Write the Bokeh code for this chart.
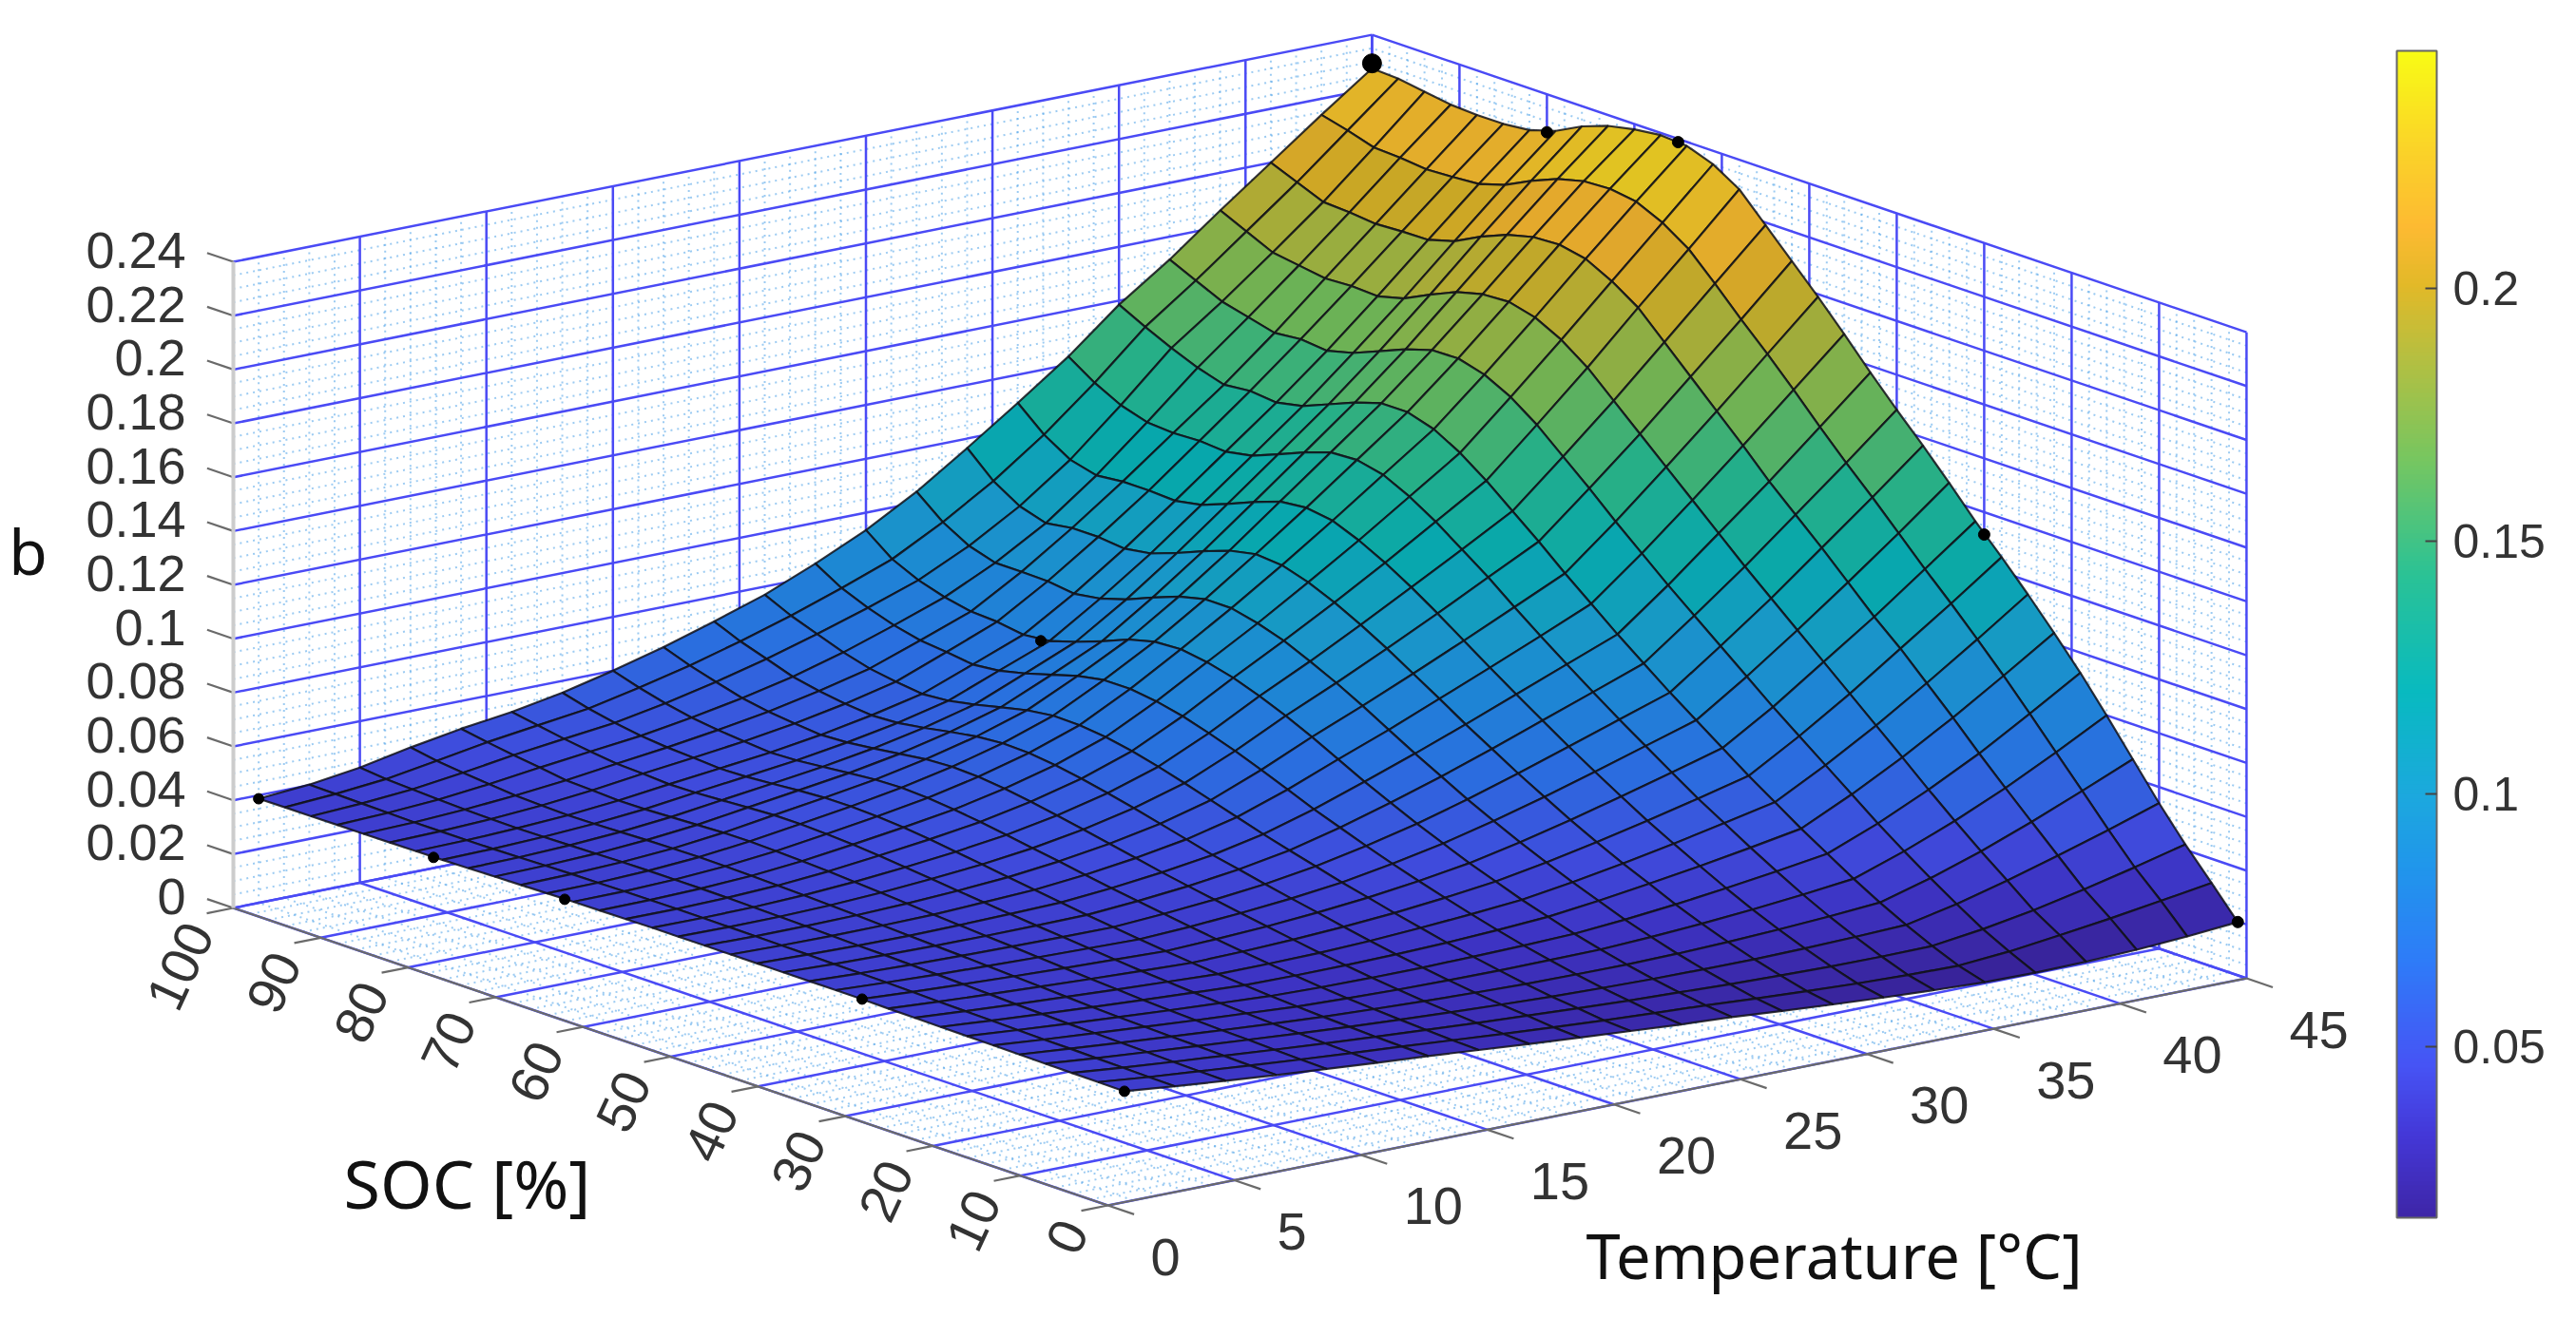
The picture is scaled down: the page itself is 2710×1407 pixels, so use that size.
import numpy as np
from bokeh.plotting import figure
from bokeh.models import ColumnDataSource, LinearColorMapper, ColorBar, FixedTicker
from bokeh.core.properties import value
from bokeh.embed import file_html
from bokeh.resources import INLINE

# Axis ticks
t_ticks = [0, 5, 10, 15, 20, 25, 30, 35, 40, 45]
soc_ticks = [0, 10, 20, 30, 40, 50, 60, 70, 80, 90, 100]
b_ticks = [0, .02, .04, .06, .08, .1, .12, .14, .16, .18, .2, .22, .24]
b_labels = ["0", "0.02", "0.04", "0.06", "0.08", "0.1", "0.12", "0.14", "0.16", "0.18", "0.2", "0.22", "0.24"]
cbar_ticks = [.05, .1, .15, .2]
cbar_labels = ["0.05", "0.1", "0.15", "0.2"]
cbar_low, cbar_high = 0.0162, 0.247

# Surface values, b x 10000; one row per SOC, one column per temperature
temperature = [1, 3, 5, 7, 9, 11, 13, 15, 17, 19, 21, 23, 25, 27, 29, 31, 33, 35, 37, 39, 41, 43, 45]
soc = [1, 4, 7, 10, 13, 16, 19, 22, 25, 28, 31, 34, 37, 40, 43, 46, 49, 52, 55, 58, 61, 64, 67, 70, 73, 76, 79, 82, 85, 88, 91, 94, 97, 100]
b_table = [
 [394,375,358,342,327,313,300,285,270,256,243,230,220,205,192,180,170,162,160,163,170,182,198],
 [395,376,360,344,329,315,302,288,274,261,249,239,230,218,208,199,193,190,205,228,253,281,310],
 [396,378,362,347,332,318,305,293,281,271,261,252,245,238,233,229,228,230,255,288,328,372,420],
 [397,380,365,350,336,322,309,298,288,279,271,266,262,260,260,263,268,275,315,365,420,478,540],
 [398,382,367,352,338,325,313,304,296,290,285,283,282,285,291,300,311,325,378,440,512,590,670],
 [399,383,369,355,342,330,318,311,306,303,302,303,305,314,326,341,359,380,445,520,605,700,800],
 [400,385,371,358,346,335,324,319,317,317,320,324,330,345,364,387,412,440,515,603,700,810,925],
 [401,387,374,362,351,341,331,329,330,333,339,348,360,382,408,436,467,500,590,690,800,918,1040],
 [402,389,377,367,357,348,339,340,343,350,361,374,390,418,450,486,525,565,665,775,895,1020,1150],
 [403,391,381,372,363,355,348,352,359,369,383,402,425,458,496,538,583,630,740,860,990,1120,1255],
 [405,394,385,377,370,364,358,365,375,389,407,431,460,500,545,595,647,700,815,945,1075,1215,1355],
 [405,396,388,382,377,373,369,378,391,408,430,462,500,546,598,654,712,770,895,1030,1170,1315,1465],
 [405,397,391,387,384,382,381,393,408,428,457,495,540,593,652,714,777,840,975,1115,1265,1415,1570],
 [405,398,394,391,390,391,393,407,425,450,483,530,585,645,710,778,846,915,1055,1200,1355,1510,1670],
 [405,400,396,395,397,401,406,422,443,470,510,565,630,697,768,842,916,990,1135,1290,1445,1610,1775],
 [405,401,399,400,403,411,420,438,463,495,540,605,680,752,830,908,988,1070,1220,1380,1545,1715,1885],
 [405,402,402,405,411,421,434,455,483,520,570,645,730,808,890,975,1062,1150,1305,1470,1640,1815,1990],
 [405,403,404,409,418,432,448,471,503,545,600,682,775,860,950,1043,1140,1235,1395,1560,1735,1910,2090],
 [405,404,406,413,425,442,462,487,522,567,628,715,815,907,1005,1107,1210,1315,1480,1650,1830,2010,2190],
 [404,404,408,416,431,452,475,502,540,588,653,745,850,950,1055,1165,1280,1395,1565,1740,1925,2105,2290],
 [403,404,409,419,436,460,486,515,555,605,672,767,875,982,1097,1215,1340,1465,1635,1810,1990,2170,2350],
 [402,403,409,421,440,466,494,525,566,617,683,780,890,1005,1127,1255,1388,1520,1685,1860,2040,2215,2385],
 [400,402,409,422,443,470,498,530,570,620,685,780,885,1005,1135,1270,1410,1550,1712,1885,2060,2230,2392],
 [398,401,408,421,442,470,497,527,565,612,672,762,860,982,1115,1260,1405,1550,1710,1880,2055,2225,2380],
 [396,399,406,419,438,465,491,518,552,596,650,733,820,945,1080,1225,1372,1520,1680,1855,2030,2200,2360],
 [394,397,404,416,434,459,483,508,539,578,627,705,785,905,1040,1185,1332,1480,1640,1812,1990,2160,2325],
 [392,395,402,413,430,454,476,499,528,563,608,682,755,875,1005,1148,1293,1440,1600,1765,1940,2112,2275],
 [391,394,401,412,429,452,473,495,523,558,600,672,745,860,990,1130,1275,1420,1575,1740,1912,2082,2245],
 [390,394,402,415,434,458,480,503,532,568,612,685,760,873,1000,1135,1282,1430,1585,1745,1910,2075,2235],
 [389,394,404,419,438,462,485,512,543,582,628,695,765,875,1000,1135,1278,1420,1575,1740,1905,2070,2235],
 [389,396,408,428,452,474,495,525,560,602,655,718,785,875,985,1125,1285,1450,1600,1755,1915,2080,2240],
 [388,398,413,437,465,488,510,545,587,635,690,750,815,905,1015,1150,1315,1490,1625,1770,1920,2085,2255],
 [388,400,418,448,480,505,530,570,615,667,725,790,860,960,1075,1210,1365,1535,1670,1815,1960,2115,2270],
 [387,402,428,465,497,522,556,600,650,708,770,848,935,1040,1165,1295,1430,1585,1715,1860,2000,2140,2275],
]

# Measured points
marker_t = [1, 1, 1, 1, 1, 25, 45, 45, 45, 45, 45]
marker_soc = [100, 80, 65, 31, 1, 80, 100, 80, 65, 30, 1]
marker_b = [.0387, .0390, .0400, .0405, .0394, .0745, .2294, .2259, .2388, .1317, .0198]
marker_size = [11, 11, 11, 11, 11, 11, 20, 12, 12, 12, 12]


def project(t, s, b):
    t, s, b = np.asarray(t, float), np.asarray(s, float), np.asarray(b, float)
    return 1165 + 26.62 * t - 9.2 * s, 1268 - 5.31 * t - 3.13 * s - 2833 * b


# parula-like colour ramp
stops = [0, .07, .13, .22, .30, .36, .45, .55, .65, .75, .80, .85, .92, 1]
rgb = np.array([(62, 38, 168), (68, 56, 216), (70, 84, 245), (46, 124, 248), (32, 150, 235), (28, 168, 222),
                (8, 186, 192), (42, 194, 150), (118, 198, 96), (190, 190, 60), (226, 185, 40), (253, 186, 50),
                (250, 212, 40), (249, 251, 21)], float)
pos = np.linspace(0, 1, 256)


def ramp(f):
    return ["#%02x%02x%02x" % tuple(int(round(f * np.interp(q, stops, rgb[:, k]))) for k in range(3)) for q in pos]


mapper = LinearColorMapper(palette=ramp(1.0), low=cbar_low, high=cbar_high)
surface_mapper = LinearColorMapper(palette=ramp(0.9), low=cbar_low, high=cbar_high)

p = figure(width=2694, height=1391, x_range=(0, 2694), y_range=(1391, 0), output_backend="svg",
           toolbar_location=None, min_border=0, outline_line_color=None)
p.axis.visible = False
p.grid.visible = False
p.background_fill_color = "white"


def segs(a, b, c, d, e, f):
    return project([a, b], [c, d], [e, f])


# Minor dotted grid
mx, my = [], []
for t in range(0, 46):
    if t % 5:
        x, y = segs(t, t, 100, 100, 0, .24); mx.append(x.tolist()); my.append(y.tolist())
        x, y = segs(t, t, 0, 100, 0, 0); mx.append(x.tolist()); my.append(y.tolist())
for s in range(0, 101, 2):
    if s % 10:
        x, y = segs(45, 45, s, s, 0, .24); mx.append(x.tolist()); my.append(y.tolist())
        x, y = segs(0, 45, s, s, 0, 0); mx.append(x.tolist()); my.append(y.tolist())
for k in range(49):
    z = k * .005
    if k % 4:
        x, y = segs(0, 45, 100, 100, z, z); mx.append(x.tolist()); my.append(y.tolist())
        x, y = segs(45, 45, 0, 100, z, z); mx.append(x.tolist()); my.append(y.tolist())
p.multi_line(mx, my, line_color="#5aa9ea", line_width=2, line_alpha=.6, line_dash="2 5")

# Major blue grid
bx, by = [], []
for t in t_ticks:
    x, y = segs(t, t, 100, 100, 0, .24); bx.append(x.tolist()); by.append(y.tolist())
    x, y = segs(t, t, 0, 100, 0, 0); bx.append(x.tolist()); by.append(y.tolist())
for s in soc_ticks:
    x, y = segs(45, 45, s, s, 0, .24); bx.append(x.tolist()); by.append(y.tolist())
    x, y = segs(0, 45, s, s, 0, 0); bx.append(x.tolist()); by.append(y.tolist())
for z in b_ticks:
    x, y = segs(0, 45, 100, 100, z, z); bx.append(x.tolist()); by.append(y.tolist())
    x, y = segs(45, 45, 0, 100, z, z); bx.append(x.tolist()); by.append(y.tolist())
p.multi_line(bx, by, line_color="#4a4af5", line_width=2.5, line_alpha=1)

# Axis lines and tick marks
gx, gy = [], []
for a in [(0, 0, 0, 100, 0, 0), (0, 45, 0, 0, 0, 0)]:
    x, y = segs(*a); gx.append(x.tolist()); gy.append(y.tolist())
for s in soc_ticks:
    x, y = segs(0, -1.05, s, s, 0, 0); gx.append(x.tolist()); gy.append(y.tolist())
for t in t_ticks:
    x, y = segs(t, t, 0, -3, 0, 0); gx.append(x.tolist()); gy.append(y.tolist())
for z in b_ticks:
    x, y = segs(0, 0, 100, 103, z, z); gx.append(x.tolist()); gy.append(y.tolist())
p.multi_line(gx, gy, line_color="#6a6a6a", line_width=2.2)
x, y = segs(0, 0, 100, 100, 0, .24)
p.line(x, y, line_color="#cccccc", line_width=4)

# Surface, back to front
b_arr = np.array(b_table) / 10000.0
xs, ys, vs = [], [], []
for i in range(len(soc) - 2, -1, -1):
    for j in range(len(temperature) - 2, -1, -1):
        tt = [temperature[j], temperature[j + 1], temperature[j + 1], temperature[j]]
        ss = [soc[i], soc[i], soc[i + 1], soc[i + 1]]
        bb = [b_arr[i, j], b_arr[i, j + 1], b_arr[i + 1, j + 1], b_arr[i + 1, j]]
        x, y = project(tt, ss, bb)
        xs.append(x.tolist()); ys.append(y.tolist()); vs.append(float(np.mean(bb)))
src = ColumnDataSource(dict(xs=xs, ys=ys, v=vs))
p.patches("xs", "ys", source=src, fill_color={"field": "v", "transform": surface_mapper},
          line_color="#101018", line_width=2.2, line_alpha=.85)

# Measured points
x, y = project(marker_t, marker_soc, marker_b)
p.scatter(x, y, size=marker_size, color="black")

# Tick labels
FONT = value("Liberation Sans")
TXT = "#333333"
x, y = project([0] * len(b_ticks), [100] * len(b_ticks), b_ticks)
p.text(x - 50, y - 12, text=b_labels, text_font=FONT, text_font_size="54px", text_color=TXT,
       text_align="right", text_baseline="middle")
x, y = project([0] * len(soc_ticks), soc_ticks, [0] * len(soc_ticks))
p.text(x - 36, y + 19, text=[str(s) for s in soc_ticks], text_font=FONT, text_font_size="56px", text_color=TXT,
       text_align="right", text_baseline="middle", angle=np.deg2rad(65))
x, y = project(t_ticks, [0] * len(t_ticks), [0] * len(t_ticks))
p.text(x + 45, y + 54, text=[str(t) for t in t_ticks], text_font=FONT, text_font_size="56px", text_color=TXT,
       text_align="left", text_baseline="middle")

# Axis titles
TF = value("Noto Sans")
p.text([29], [578], text=["b"], text_font=TF, text_font_size="66px", text_color="#111111",
       text_align="center", text_baseline="middle")
p.text([491], [1244], text=["SOC [%]"], text_font=TF, text_font_size="70px", text_color="#111111",
       text_align="center", text_baseline="middle")
p.text([1929], [1320], text=["Temperature [°C]"], text_font=TF, text_font_size="65px", text_color="#111111",
       text_align="center", text_baseline="middle")

# Colour bar
cb = ColorBar(color_mapper=mapper, location=(2521, 1391 - 1281), width=42, height=1228, padding=0,
              ticker=FixedTicker(ticks=cbar_ticks), major_label_overrides=dict(zip(cbar_ticks, cbar_labels)),
              major_label_text_font="Liberation Sans",
              major_label_text_font_size="50px", major_label_text_color=TXT, label_standoff=17,
              major_tick_in=12, major_tick_out=0, major_tick_line_color="#444444", major_tick_line_width=2,
              minor_tick_line_color=None, bar_line_color="#666666", bar_line_width=2, border_line_color=None,
              background_fill_color=None)
p.add_layout(cb, "center")

open("out.html", "w").write(file_html(p, INLINE))
